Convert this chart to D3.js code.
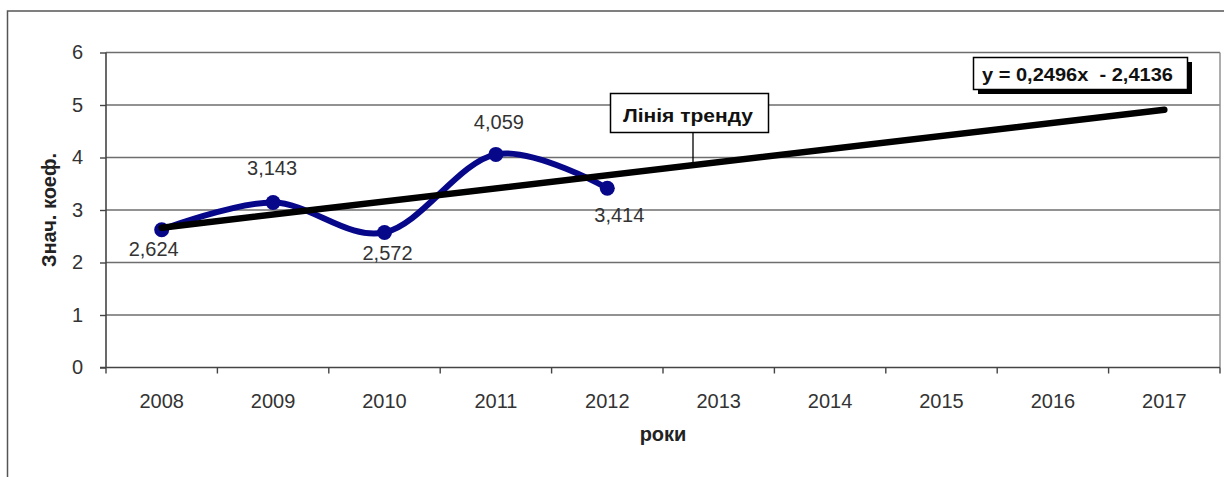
<!DOCTYPE html>
<html>
<head>
<meta charset="utf-8">
<script src="https://cdn.jsdelivr.net/npm/d3@7"></script>
<style>
  body { margin: 0; background: #fff; }
  svg { display: block; }
  text { font-family: "Liberation Sans", Arial, sans-serif; }
</style>
</head>
<body>
<svg id="chart" width="1224" height="477"></svg>
<script>
// Categories on the x axis (observed years plus the forecast horizon)
const years = ["2008", "2009", "2010", "2011", "2012", "2013", "2014", "2015", "2016", "2017"];
// Observed coefficient values
const dataYears = ["2008", "2009", "2010", "2011", "2012"];
const coefValues = [2.624, 3.143, 2.572, 4.059, 3.414];
const valueLabels = ["2,624", "3,143", "2,572", "4,059", "3,414"];
// Y axis ticks
const yTicks = [0, 1, 2, 3, 4, 5, 6];
// Linear trend: value = slope * (year index, starting at 1) + intercept
const trendSlope = 0.2496;
const trendIntercept = 2.4136;
// Texts
const trendLabel = "Лінія тренду";
const equationLabel = "y = 0,2496x  - 2,4136";
const yTitle = "Знач. коеф.";
const xTitle = "роки";

(function () {
  const svg = d3.select("#chart");
  const plotLeft = 106, plotRight = 1220, plotTop = 52.5, plotBottom = 367.5;
  const seriesColor = "#07078a";

  const x = d3.scaleBand().domain(years).range([plotLeft, plotRight]).padding(0);
  const cx = d => x(d) + x.bandwidth() / 2;
  const y = d3.scaleLinear().domain([0, 6]).range([plotBottom, plotTop]);

  // Outer chart frame
  svg.append("rect")
    .attr("x", 7.5).attr("y", 11).attr("width", 1240).attr("height", 500)
    .attr("fill", "#fff").attr("stroke", "#555").attr("stroke-width", 1.5);

  // Horizontal gridlines
  svg.append("g").selectAll("line")
    .data(yTicks.filter(t => t > 0))
    .join("line")
    .attr("x1", plotLeft).attr("x2", plotRight)
    .attr("y1", d => y(d)).attr("y2", d => y(d))
    .attr("stroke", "#6e6e6e").attr("stroke-width", 1.4);

  // Right border of the plot area
  svg.append("line")
    .attr("x1", plotRight).attr("x2", plotRight).attr("y1", plotTop).attr("y2", plotBottom)
    .attr("stroke", "#8a8a8a").attr("stroke-width", 1.4);

  // Y axis
  const yAxis = svg.append("g")
    .attr("transform", `translate(${plotLeft},0)`)
    .call(d3.axisLeft(y).tickValues(yTicks).tickSize(6).tickPadding(17).tickFormat(d3.format("d")));
  yAxis.select(".domain").remove();
  yAxis.selectAll(".tick line").attr("stroke", "#444").attr("stroke-width", 1.4);
  yAxis.selectAll(".tick text").attr("fill", "#333").attr("font-size", 20);

  svg.append("line")
    .attr("x1", plotLeft).attr("x2", plotLeft).attr("y1", plotTop).attr("y2", plotBottom)
    .attr("stroke", "#444").attr("stroke-width", 1.6);

  // X axis: labels at band centres, tick marks at band boundaries
  const xAxis = svg.append("g")
    .attr("transform", `translate(0,${plotBottom})`)
    .call(d3.axisBottom(x).tickSize(0).tickPadding(26.5));
  xAxis.select(".domain").remove();
  xAxis.selectAll(".tick text").attr("fill", "#333").attr("font-size", 20);

  svg.append("g").selectAll("line")
    .data(years.map(d => x(d)).concat([plotRight]))
    .join("line")
    .attr("x1", d => d).attr("x2", d => d)
    .attr("y1", plotBottom).attr("y2", plotBottom + 6)
    .attr("stroke", "#444").attr("stroke-width", 1.4);

  svg.append("line")
    .attr("x1", plotLeft - 6).attr("x2", plotRight).attr("y1", plotBottom).attr("y2", plotBottom)
    .attr("stroke", "#444").attr("stroke-width", 1.6);

  // Axis titles
  svg.append("text")
    .attr("transform", `translate(56,${(plotTop + plotBottom) / 2}) rotate(-90)`)
    .attr("text-anchor", "middle").attr("font-weight", "bold").attr("font-size", 20)
    .attr("fill", "#222").text(yTitle);

  svg.append("text")
    .attr("x", (plotLeft + plotRight) / 2).attr("y", 441)
    .attr("text-anchor", "middle").attr("font-weight", "bold").attr("font-size", 20)
    .attr("fill", "#222").text(xTitle);

  // Observed series: smoothed line with markers
  const pts = dataYears.map((d, i) => [cx(d), y(coefValues[i])]);
  svg.append("path")
    .attr("d", d3.line().curve(d3.curveCardinal.tension(0))(pts))
    .attr("fill", "none").attr("stroke", seriesColor).attr("stroke-width", 6)
    .attr("stroke-linecap", "round");
  svg.append("g").selectAll("circle")
    .data(pts).join("circle")
    .attr("cx", d => d[0]).attr("cy", d => d[1]).attr("r", 7.5)
    .attr("fill", seriesColor);

  // Value labels (placed above or below each point)
  const labelOffsets = [[-8, 26.5], [-1, -27.5], [3, 27.5], [3, -25.5], [12, 33.5]];
  svg.append("g").selectAll("text")
    .data(valueLabels).join("text")
    .attr("x", (d, i) => pts[i][0] + labelOffsets[i][0])
    .attr("y", (d, i) => pts[i][1] + labelOffsets[i][1])
    .attr("text-anchor", "middle").attr("font-size", 20).attr("fill", "#333")
    .text(d => d);

  // Trend line across the whole horizon
  const trendPts = years.map((d, i) => [cx(d), y(trendSlope * (i + 1) + trendIntercept)]);
  svg.append("path")
    .attr("d", d3.line()([trendPts[0], trendPts[trendPts.length - 1]]))
    .attr("fill", "none").attr("stroke", "#000").attr("stroke-width", 6.5)
    .attr("stroke-linecap", "round");

  // "Лінія тренду" callout with a leader line to the trend
  const calloutX = 693;
  const calloutIdx = (calloutX - cx(years[0])) / x.step();
  svg.append("line")
    .attr("x1", calloutX).attr("x2", calloutX)
    .attr("y1", 132).attr("y2", y(trendSlope * (calloutIdx + 1) + trendIntercept))
    .attr("stroke", "#000").attr("stroke-width", 1.3);
  svg.append("rect")
    .attr("x", 610.5).attr("y", 93.5).attr("width", 158).attr("height", 39)
    .attr("fill", "#fff").attr("stroke", "#000").attr("stroke-width", 1.5);
  svg.append("text")
    .attr("x", 623).attr("y", 122).attr("font-size", 19).attr("font-weight", "bold")
    .attr("fill", "#111").attr("textLength", 130).attr("lengthAdjust", "spacingAndGlyphs")
    .text(trendLabel);

  // Trend equation box with a drop shadow
  svg.append("rect")
    .attr("x", 978).attr("y", 62).attr("width", 214).attr("height", 32)
    .attr("fill", "#000");
  svg.append("rect")
    .attr("x", 973.5).attr("y", 57.5).attr("width", 214).attr("height", 32)
    .attr("fill", "#fff").attr("stroke", "#000").attr("stroke-width", 1.5);
  svg.append("text")
    .attr("x", 982).attr("y", 80.5).attr("font-size", 19).attr("font-weight", "bold")
    .attr("fill", "#111").attr("textLength", 191).attr("lengthAdjust", "spacingAndGlyphs")
    .attr("xml:space", "preserve")
    .text(equationLabel);
})();
</script>
</body>
</html>
